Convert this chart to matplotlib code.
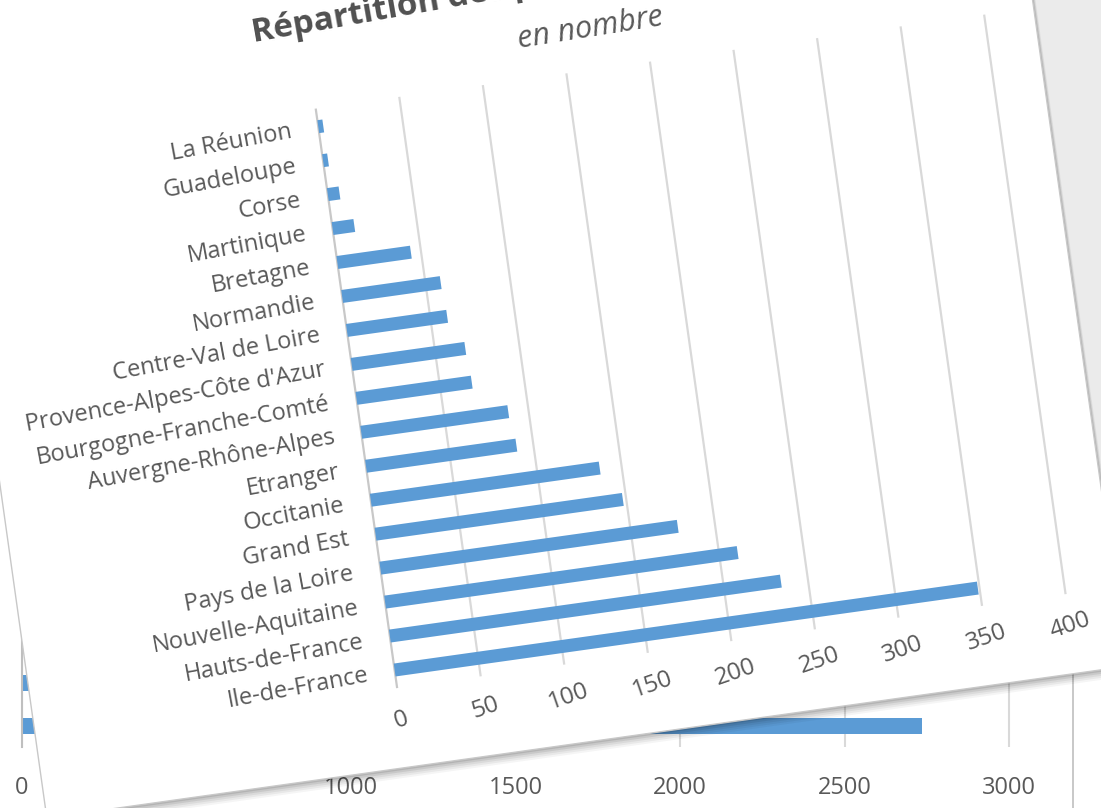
import numpy as np
import matplotlib
matplotlib.use("Agg")
import matplotlib.pyplot as plt
from matplotlib.patches import Rectangle
from matplotlib.lines import Line2D
from matplotlib.transforms import Affine2D, IdentityTransform

plt.rcParams['font.family'] = ['Open Sans', 'DejaVu Sans']

# front chart (the tilted card)
regions = ["Ile-de-France", "Hauts-de-France", "Nouvelle-Aquitaine", "Pays de la Loire",
           "Grand Est", "Occitanie", "Etranger", "Auvergne-Rhône-Alpes",
           "Bourgogne-Franche-Comté", "Provence-Alpes-Côte d'Azur", "Centre-Val de Loire",
           "Normandie", "Bretagne", "Martinique", "Corse", "Guadeloupe", "La Réunion"]
counts = [349, 234, 211, 178, 148, 137, 90, 88, 69, 68, 60, 59, 44, 13, 7, 3, 3]
x_ticks = [0, 50, 100, 150, 200, 250, 300, 350, 400]
title = "Répartition des participants par région"
subtitle = "en nombre"

# chart underneath (mostly hidden by the card)
bg_values = [2736, 620, 540]
bg_ticks = [0, 500, 1000, 1500, 2000, 2500, 3000]

W, H = 1101, 808
TEXT = '#595959'
GRID = '#d9d9d9'
BLUE = '#5b9bd5'

fig = plt.figure(figsize=(W / 100, H / 100), dpi=100)
fig.patch.set_facecolor('white')

# --- background chart ---
bg = fig.add_axes([22 / W, 61 / H, (W - 22) / W, (H - 61) / H], zorder=0)
bg.set_facecolor('none')
bg.barh(np.arange(len(bg_values)), bg_values, height=0.37, color=BLUE, zorder=2)
bg.set_xlim(0, (W - 22) / 0.329)
bg.set_ylim(-0.49, -0.49 + (H - 61) / 43)
bg.set_xticks(bg_ticks)
bg.set_yticks([])
bg.grid(axis='x', color=GRID, lw=1.5)
bg.set_axisbelow(True)
bg.tick_params(axis='x', length=0, pad=21, labelsize=17, labelcolor=TEXT)
for s in ['top', 'right', 'bottom']:
    bg.spines[s].set_visible(False)
bg.spines['left'].set_color('#bfbfbf')
bg.spines['left'].set_linewidth(1.5)

# grey area right of the card + sheet border line
fig.add_artist(Rectangle((1030, H - 520), 100, 520, transform=IdentityTransform(),
                         facecolor='#ebebeb', edgecolor='none', zorder=0.1))
fig.add_artist(Line2D([1073, 1073], [0, H - 585], transform=IdentityTransform(),
                      color='#c4c4c4', lw=1.3, zorder=0.2))

# --- tilted card ---
ox, oy = 397, 121          # chart origin in pixels
rot = Affine2D().rotate_deg_around(ox, oy, 8)

for k, a in [(10, 0.04), (8, 0.05), (6, 0.06), (4, 0.08), (2, 0.1)]:
    fig.add_artist(Rectangle((32 + k * 0.3, 40 - k), 1090, 1030, transform=rot,
                             facecolor='black', edgecolor='none', alpha=a, zorder=0.5))
fig.add_artist(Rectangle((32, 40), 1090, 1030, transform=rot, facecolor='white',
                         edgecolor='#c8c8c8', lw=1, zorder=1))

ax = fig.add_axes([ox / W, oy / H, 675 / W, 583 / H], zorder=2)
ax.axis('off')
T = ax.transData + rot

for t in x_ticks:
    ax.plot([t, t], [-0.5, 16.5], color=GRID if t else '#c8c8c8', lw=1.6,
            transform=T, clip_on=False, zorder=1)

bars = ax.barh(np.arange(len(regions)), counts, height=0.38, color=BLUE, zorder=2)
for b in bars:
    b.set_transform(T)
    b.set_clip_on(False)

for i, name in enumerate(regions):
    ax.text(-16, i - 0.05, name, transform=T, rotation=10.5, rotation_mode='anchor',
            ha='right', va='center', fontsize=17, color=TEXT, clip_on=False)

for t in x_ticks:
    ax.text(t, -1.46, str(t), transform=T, rotation=19, rotation_mode='anchor',
            ha='center', va='center', fontsize=17.5, color=TEXT, clip_on=False)

ax.text(-31.4, 18.95, title, transform=T, rotation=10, rotation_mode='anchor',
        ha='left', va='center', fontsize=24, fontweight='bold', color='#505050')
ax.text(167.8, 17.72, subtitle, transform=T, rotation=9, rotation_mode='anchor',
        ha='center', va='center', fontsize=22, style='italic', color=TEXT)

ax.set_xlim(0, 400)
ax.set_ylim(-0.5, 16.5)

fig.savefig('out.png', dpi=100)
